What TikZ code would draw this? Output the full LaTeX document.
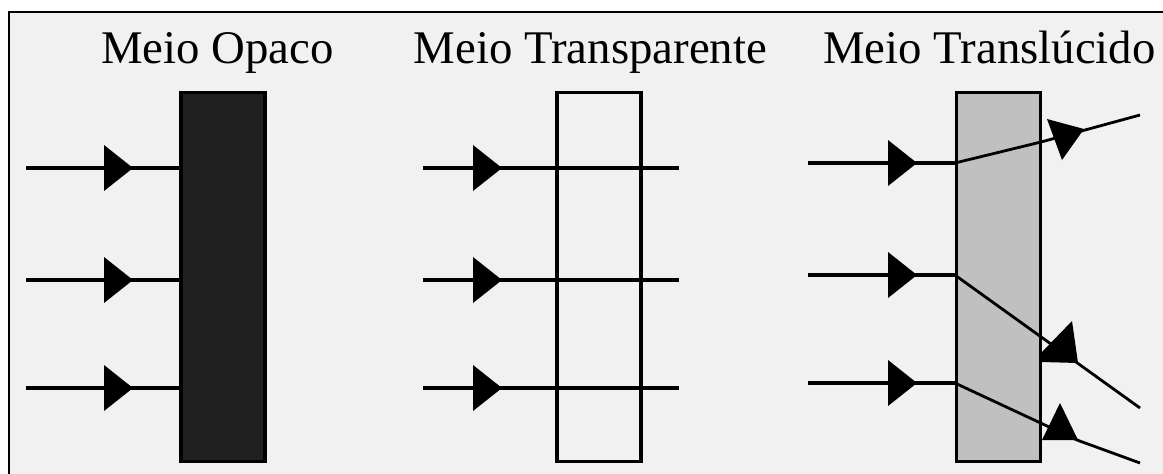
\documentclass[tikz,border=0pt]{standalone}
\usepackage{fontspec}
\setmainfont{Liberation Serif}
\definecolor{fundo}{HTML}{F1F1F1}
\definecolor{corOpaco}{HTML}{202020}
\definecolor{corTransl}{HTML}{C0C0C0}
\tikzset{
  meio/.style={draw=black, line width=1.6pt, inner sep=0pt,
    minimum width=42pt, minimum height=184.5pt},
  titulo/.style={anchor=base, inner sep=0pt,
    font=\fontsize{23.4pt}{26pt}\selectfont},
  raio/.style={line width=1.7pt},
  raioFino/.style={line width=1.4pt},
  seta/.pic={\fill (0,-23) -- (29,0) -- (0,23) -- cycle;}
}
\begin{document}
\begin{tikzpicture}[x=0.5pt,y=-0.5pt]
\useasboundingbox (0,0) rectangle (1163,473);
\clip (0,0) rectangle (1163,473);
% Background and frame
\fill[white] (0,0) rectangle (1163,473);
\filldraw[fill=fundo, line width=1.4pt] (9,12) rectangle (1180,490);
% Titles
\node[titulo] (tOpaco) at (217.5,63) {Meio Opaco};
\node[titulo] (tTransp) at (590.5,63) {Meio Transparente};
\node[titulo] (tTransl) at (989.5,63) {Meio Translúcido};
% Blocks
\node[meio, fill=corOpaco] (opaco) at (223,277) {};
\node[meio] (transp) at (599,277) {};
\node[meio, fill=corTransl] (transl) at (998.5,277) {};
% Opaque medium: rays stop at the block
\foreach \y [count=\i] in {168,280,388} {
  \coordinate (o\i) at (26,\y);
  \draw[raio] (o\i) -- (o\i -| opaco.west);
  \pic at (104,\y) {seta};
}
% Transparent medium: rays go straight through
\foreach \y [count=\i] in {168,280,388} {
  \coordinate (p\i) at (423,\y);
  \coordinate (q\i) at (679,\y);
  \draw[raio] (p\i) -- (q\i);
  \pic at (473,\y) {seta};
}
% Translucent medium: rays are scattered
\foreach \y [count=\i] in {163,275,383} {
  \coordinate (l\i) at (808,\y);
  \draw[raio] (l\i) -- (l\i -| transl.west);
  \pic at (888,\y) {seta};
}
\coordinate (s1) at (1041,142);
\coordinate (e1) at (1140,115);
\coordinate (e2) at (1140,408);
\coordinate (s3) at (1077,440);
\coordinate (e3) at (1140,463);
\draw[raioFino] (l1 -| transl.west) -- (s1) -- (e1);
\draw[raioFino] (l2 -| transl.west) -- (e2);
\draw[raioFino] (l3 -| transl.west) -- (s3) -- (e3);
\fill (1047,119) -- (1084,129) -- (1062,160) -- cycle;
\fill (1072,321) -- (1042,352) -- (1042,362) -- (1078,363) -- cycle;
\fill (1060,403) -- (1042,440) -- (1078,440) -- cycle;
\end{tikzpicture}
\end{document}
